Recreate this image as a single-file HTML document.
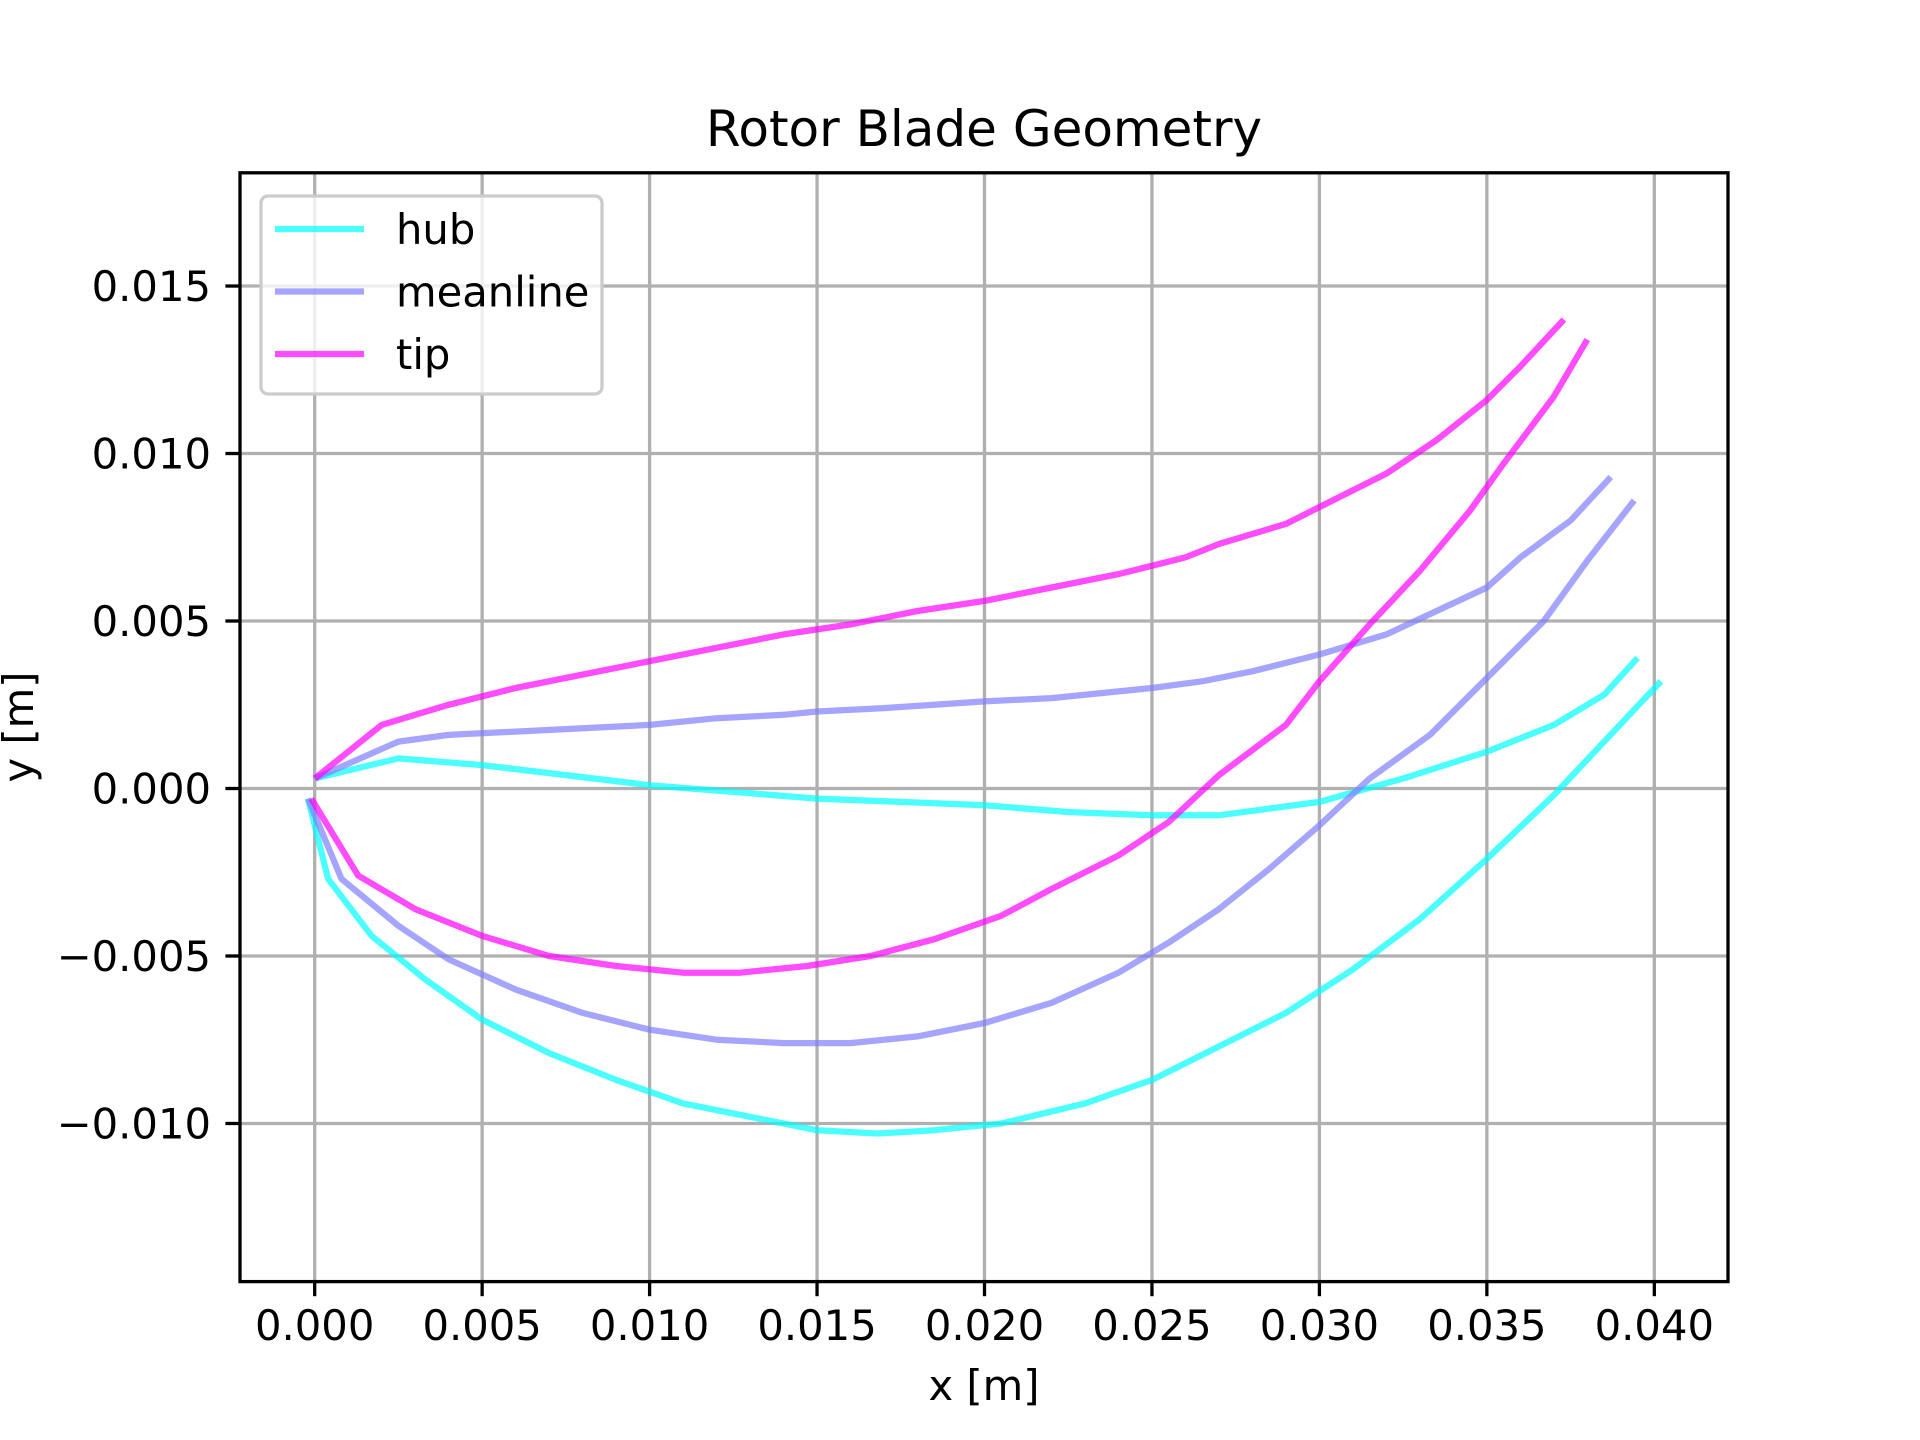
<!DOCTYPE html>
<html><head><meta charset="utf-8"><style>html,body{margin:0;padding:0;background:#fff}svg{display:block}text{font-family:"DejaVu Sans","Liberation Sans",sans-serif;fill:#000}</style></head>
<body>
<svg id="chart" width="1920" height="1440" viewBox="0 0 1920 1440" xmlns="http://www.w3.org/2000/svg">
<rect width="1920" height="1440" fill="#fff"/>
<g id="grid"></g><g id="series"></g><g id="axes"></g>
</svg>
<script>
const xTicks=[0,0.005,0.010,0.015,0.020,0.025,0.030,0.035,0.040];
const xTickLabels=["0.000","0.005","0.010","0.015","0.020","0.025","0.030","0.035","0.040"];
const yTicks=[-0.010,-0.005,0,0.005,0.010,0.015];
const yTickLabels=["\u22120.010","\u22120.005","0.000","0.005","0.010","0.015"];
const seriesNames=["hub","meanline","tip"];
const hubUpperX=[0,0.0025,0.005,0.0075,0.010,0.0125,0.015,0.0175,0.020,0.0225,0.025,0.027,0.030,0.0325,0.035,0.037,0.0385,0.0395];
const hubUpperY=[0.0003,0.0009,0.0007,0.0004,0.0001,-0.0001,-0.0003,-0.0004,-0.0005,-0.0007,-0.0008,-0.0008,-0.0004,0.0003,0.0011,0.0019,0.0028,0.0039];
const hubLowerX=[-0.0002,0.0004,0.0017,0.0033,0.005,0.007,0.009,0.011,0.013,0.015,0.0168,0.0185,0.0205,0.023,0.025,0.027,0.029,0.031,0.033,0.035,0.037,0.0385,0.0402];
const hubLowerY=[-0.0003,-0.0027,-0.0044,-0.0057,-0.0069,-0.0079,-0.0087,-0.0094,-0.0098,-0.0102,-0.0103,-0.0102,-0.0100,-0.0094,-0.0087,-0.0077,-0.0067,-0.0054,-0.0039,-0.0021,-0.0002,0.0014,0.0032];
const meanUpperX=[0,0.0025,0.004,0.006,0.008,0.010,0.012,0.014,0.015,0.017,0.0185,0.020,0.022,0.024,0.025,0.0265,0.028,0.030,0.032,0.0335,0.035,0.036,0.0375,0.0387];
const meanUpperY=[0.0003,0.0014,0.0016,0.0017,0.0018,0.0019,0.0021,0.0022,0.0023,0.0024,0.0025,0.0026,0.0027,0.0029,0.0030,0.0032,0.0035,0.0040,0.0046,0.0053,0.0060,0.0069,0.0080,0.0093];
const meanLowerX=[-0.0002,0.0008,0.0025,0.004,0.006,0.008,0.010,0.012,0.014,0.016,0.018,0.020,0.022,0.024,0.0255,0.027,0.0285,0.030,0.0315,0.0333,0.035,0.0367,0.038,0.0394];
const meanLowerY=[-0.0003,-0.0027,-0.0041,-0.0051,-0.0060,-0.0067,-0.0072,-0.0075,-0.0076,-0.0076,-0.0074,-0.0070,-0.0064,-0.0055,-0.0046,-0.0036,-0.0024,-0.0011,0.0003,0.0016,0.0033,0.0050,0.0068,0.0086];
const tipUpperX=[0,0.002,0.004,0.006,0.008,0.010,0.012,0.014,0.016,0.018,0.020,0.022,0.024,0.026,0.027,0.029,0.030,0.032,0.0335,0.035,0.036,0.0373];
const tipUpperY=[0.0003,0.0019,0.0025,0.0030,0.0034,0.0038,0.0042,0.0046,0.0049,0.0053,0.0056,0.0060,0.0064,0.0069,0.0073,0.0079,0.0084,0.0094,0.0104,0.0116,0.0126,0.0140];
const tipLowerX=[-0.0001,0.0013,0.003,0.005,0.007,0.009,0.011,0.0127,0.0147,0.0166,0.0185,0.0205,0.022,0.024,0.0255,0.027,0.029,0.030,0.0315,0.033,0.0345,0.0355,0.037,0.038];
const tipLowerY=[-0.0003,-0.0026,-0.0036,-0.0044,-0.0050,-0.0053,-0.0055,-0.0055,-0.0053,-0.0050,-0.0045,-0.0038,-0.0030,-0.0020,-0.0010,0.0004,0.0019,0.0032,0.0049,0.0065,0.0083,0.0097,0.0117,0.0134];

const L=240,R=1728,T=172.8,B=1281.6;
const xMin=-0.00223,xMax=0.0422,yMin=-0.01472,yMax=0.01838;
const sx=v=>L+(v-xMin)/(xMax-xMin)*(R-L);
const sy=v=>B-(v-yMin)/(yMax-yMin)*(B-T);
const NS="http://www.w3.org/2000/svg";
function mk(tag,parent){const e=document.createElementNS(NS,tag);parent.appendChild(e);return e;}
const grid=document.getElementById('grid'),ser=document.getElementById('series'),axes=document.getElementById('axes');

xTicks.forEach((t,i)=>{
  const g=mk('line',grid);
  
  
  g.setAttribute('x1',sx(t));g.setAttribute('x2',sx(t));g.setAttribute('y1',T);g.setAttribute('y2',B);
  g.setAttribute('stroke','#b0b0b0');g.setAttribute('stroke-width','3.3');
  const tk=mk('line',axes);
  
  
  tk.setAttribute('x1',sx(t));tk.setAttribute('x2',sx(t));tk.setAttribute('y1',B);tk.setAttribute('y2',B+14.6);
  tk.setAttribute('stroke','#000');tk.setAttribute('stroke-width','3.3');
  const tx=mk('text',axes);
  
  
  tx.setAttribute('x',sx(t));tx.setAttribute('y',1340);tx.setAttribute('text-anchor','middle');tx.setAttribute('font-size','41.7');
  tx.textContent=xTickLabels[i];
});
yTicks.forEach((t,i)=>{
  const g=mk('line',grid);
  
  
  g.setAttribute('x1',L);g.setAttribute('x2',R);g.setAttribute('y1',sy(t));g.setAttribute('y2',sy(t));
  g.setAttribute('stroke','#b0b0b0');g.setAttribute('stroke-width','3.3');
  const tk=mk('line',axes);
  
  
  tk.setAttribute('x1',L-14.6);tk.setAttribute('x2',L);tk.setAttribute('y1',sy(t));tk.setAttribute('y2',sy(t));
  tk.setAttribute('stroke','#000');tk.setAttribute('stroke-width','3.3');
  const tx=mk('text',axes);
  
  
  tx.setAttribute('x',211);tx.setAttribute('y',sy(t)+15);tx.setAttribute('text-anchor','end');tx.setAttribute('font-size','41.7');
  tx.textContent=yTickLabels[i];
});

const colors=["rgba(0,255,255,0.7)","rgba(127,127,255,0.7)","rgba(255,0,255,0.7)"];
const curves=[[hubUpperX,hubUpperY,0,'hub-upper-line'],[hubLowerX,hubLowerY,0,'hub-lower-line'],[meanUpperX,meanUpperY,1,'meanline-upper-line'],[meanLowerX,meanLowerY,1,'meanline-lower-line'],[tipUpperX,tipUpperY,2,'tip-upper-line'],[tipLowerX,tipLowerY,2,'tip-lower-line']];
curves.forEach(c=>{
  const p=mk('polyline',ser);
  
  
  p.setAttribute('points',c[0].map((x,i)=>sx(x).toFixed(1)+','+sy(c[1][i]).toFixed(1)).join(' '));
  p.setAttribute('fill','none');p.setAttribute('stroke',colors[c[2]]);p.setAttribute('stroke-width','6.25');
  p.setAttribute('stroke-linejoin','round');p.setAttribute('stroke-linecap','butt');
});

const frame=mk('rect',axes);


frame.setAttribute('x',L);frame.setAttribute('y',T);frame.setAttribute('width',R-L);frame.setAttribute('height',B-T);
frame.setAttribute('fill','none');frame.setAttribute('stroke','#000');frame.setAttribute('stroke-width','3.3');

const lg=mk('g',axes);


const lb=mk('rect',lg);


lb.setAttribute('x',261);lb.setAttribute('y',196);lb.setAttribute('width',341);lb.setAttribute('height',198);lb.setAttribute('rx',7);
lb.setAttribute('fill','rgba(255,255,255,0.8)');lb.setAttribute('stroke','#ccc');lb.setAttribute('stroke-width','3.3');
seriesNames.forEach((n,i)=>{
  const y=229+i*62.5;
  const ln=mk('line',lg);
  
  
  ln.setAttribute('x1',275);ln.setAttribute('x2',364);ln.setAttribute('y1',y);ln.setAttribute('y2',y);
  ln.setAttribute('stroke',colors[i]);ln.setAttribute('stroke-width','6.25');
  const t=mk('text',lg);
  
  
  t.setAttribute('x',396);t.setAttribute('y',y+15);t.setAttribute('font-size','41.7');
  t.textContent=n;
});
</script>
<svg width="0" height="0" style="position:absolute"></svg>
<script>
(function(){const s=document.getElementById('chart');const NS="http://www.w3.org/2000/svg";
const a=document.createElementNS(NS,'text');a.setAttribute('x',984);a.setAttribute('y',146);a.setAttribute('text-anchor','middle');a.setAttribute('font-size','50');a.textContent='Rotor Blade Geometry';s.appendChild(a);
const b=document.createElementNS(NS,'text');b.setAttribute('x',984);b.setAttribute('y',1400);b.setAttribute('text-anchor','middle');b.setAttribute('font-size','41.7');b.textContent='x [m]';s.appendChild(b);
const c=document.createElementNS(NS,'text');c.setAttribute('transform','translate(33,727) rotate(-90)');c.setAttribute('text-anchor','middle');c.setAttribute('font-size','41.7');c.textContent='y [m]';s.appendChild(c);
})();
</script>
</body></html>
